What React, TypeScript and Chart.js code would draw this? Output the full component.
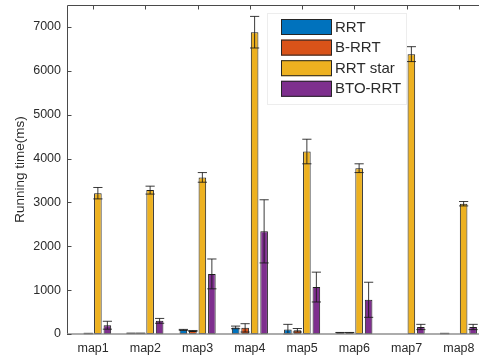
import React, { useEffect, useRef } from "react";
import { Chart, registerables } from "chart.js";

Chart.register(...registerables);

const categories = ["map1", "map2", "map3", "map4", "map5", "map6", "map7", "map8"];
const seriesNames = ["RRT", "B-RRT", "RRT star", "BTO-RRT"];
const seriesColors = ["#0072BD", "#D95319", "#EDB120", "#7E2F8E"];

const rrt = [0, 15, 95, 150, 100, 30, 0, 10];
const rrtErr = [0, 5, 10, 30, 120, 5, 0, 5];
const bRrt = [10, 15, 70, 140, 85, 30, 0, 0];
const bRrtErr = [5, 5, 10, 95, 40, 5, 0, 0];
const rrtStar = [3210, 3280, 3570, 6880, 4160, 3780, 6380, 2970];
const rrtStarErr = [130, 90, 110, 360, 280, 100, 170, 50];
const btoRrt = [200, 300, 1370, 2340, 1070, 780, 160, 160];
const btoRrtErr = [90, 55, 340, 720, 340, 400, 60, 60];

const yTicks = [0, 1000, 2000, 3000, 4000, 5000, 6000, 7000];
const yMax = 7500;
const yTitle = "Running time(ms)";

const FONT = '"Liberation Sans", Arial, Helvetica, sans-serif';
const TEXT = "#2b2b2b";

const seriesValues = [rrt, bRrt, rrtStar, btoRrt];
const seriesErrors = [rrtErr, bRrtErr, rrtStarErr, btoRrtErr];

const matlabPlugin = {
  id: "matlabStyle",
  afterDatasetsDraw(chart: any) {
    const ctx = chart.ctx;
    const ys = chart.scales.y;
    const xs = chart.scales.x;
    const area = chart.chartArea;
    ctx.save();
    // error bars
    chart.data.datasets.forEach((ds: any, i: number) => {
      const meta = chart.getDatasetMeta(i);
      meta.data.forEach((bar: any, j: number) => {
        const v = ds.data[j];
        const e = seriesErrors[i][j];
        if (!v && !e) return;
        const x = bar.x;
        const yt = ys.getPixelForValue(v + e);
        const yb = ys.getPixelForValue(Math.max(0, v - e));
        ctx.strokeStyle = "rgba(25,25,25,0.85)";
        ctx.lineWidth = 1;
        ctx.beginPath();
        ctx.moveTo(x, yt);
        ctx.lineTo(x, yb);
        ctx.moveTo(x - 4.6, yt);
        ctx.lineTo(x + 4.6, yt);
        ctx.moveTo(x - 4.6, yb);
        ctx.lineTo(x + 4.6, yb);
        ctx.stroke();
      });
    });
    // axes box
    ctx.strokeStyle = "#4a4a4a";
    ctx.lineWidth = 1;
    ctx.beginPath();
    ctx.moveTo(area.left + 0.5, area.bottom);
    ctx.lineTo(area.left + 0.5, area.top + 0.5);
    ctx.lineTo(area.right, area.top + 0.5);
    ctx.stroke();
    ctx.strokeStyle = "#909090";
    ctx.lineWidth = 1.5;
    ctx.beginPath();
    ctx.moveTo(area.left, area.bottom);
    ctx.lineTo(area.right, area.bottom);
    ctx.stroke();
    // inward ticks
    ctx.strokeStyle = "#4a4a4a";
    ctx.lineWidth = 1;
    ctx.beginPath();
    yTicks.forEach((t) => {
      const py = Math.round(ys.getPixelForValue(t)) + 0.5;
      ctx.moveTo(area.left, py);
      ctx.lineTo(area.left + 4.5, py);
    });
    categories.forEach((_, k) => {
      const px = Math.round(xs.getPixelForValue(k)) + 0.5;
      ctx.moveTo(px, area.top);
      ctx.lineTo(px, area.top + 4.5);
    });
    ctx.stroke();
    // y title
    ctx.fillStyle = TEXT;
    ctx.font = `13.5px ${FONT}`;
    ctx.textAlign = "center";
    ctx.textBaseline = "middle";
    ctx.translate(20, (area.top + area.bottom) / 2);
    ctx.rotate(-Math.PI / 2);
    ctx.fillText(yTitle, 0, 0);
    ctx.restore();
  },
  afterDraw(chart: any) {
    const ctx = chart.ctx;
    ctx.save();
    // legend box
    ctx.fillStyle = "#ffffff";
    ctx.fillRect(267, 13, 139, 91);
    ctx.strokeStyle = "#ededed";
    ctx.lineWidth = 1;
    ctx.strokeRect(267.5, 13.5, 139, 91);
    seriesNames.forEach((name, i) => {
      const y0 = 19 + i * 20.6;
      ctx.fillStyle = seriesColors[i];
      ctx.fillRect(281, y0, 51, 16);
      ctx.strokeStyle = "#262626";
      ctx.lineWidth = 1;
      ctx.strokeRect(281.5, y0 + 0.5, 50, 15);
      ctx.fillStyle = TEXT;
      ctx.font = `15px ${FONT}`;
      ctx.textAlign = "left";
      ctx.textBaseline = "middle";
      ctx.fillText(name, 335, y0 + 8.5);
    });
    ctx.restore();
  },
};

export default function App() {
  const ref = useRef<HTMLCanvasElement | null>(null);
  useEffect(() => {
    if (!ref.current) return;
    const chart = new Chart(ref.current, {
      type: "bar",
      data: {
        labels: categories,
        datasets: seriesNames.map((name, i) => ({
          label: name,
          data: seriesValues[i],
          backgroundColor: seriesColors[i],
          borderColor: "#1e1e1e",
          borderWidth: 1,
          borderSkipped: false,
          categoryPercentage: 0.727,
          barPercentage: 0.8,
        })),
      },
      options: {
        responsive: false,
        animation: false,
        devicePixelRatio: 1,
        layout: { autoPadding: false, padding: { top: 5, right: 5, left: 0, bottom: 0 } },
        plugins: { legend: { display: false }, tooltip: { enabled: false } },
        scales: {
          x: {
            grid: { display: false, drawTicks: false },
            border: { display: false },
            ticks: { color: TEXT, font: { family: FONT, size: 12.5 }, padding: 7 },
            afterFit: (s: any) => {
              s.height = 28;
              s.paddingLeft = 0;
              s.paddingRight = 0;
              s.paddingTop = 0;
              s.paddingBottom = 0;
            },
          },
          y: {
            min: 0,
            max: yMax,
            grid: { display: false, drawTicks: false },
            border: { display: false },
            ticks: {
              color: TEXT,
              font: { family: FONT, size: 12.5 },
              padding: 6,
              callback: (v: any) => String(v),
            },
            afterBuildTicks: (s: any) => {
              s.ticks = yTicks.map((v) => ({ value: v }));
            },
            afterFit: (s: any) => {
              s.width = 67;
              s.paddingLeft = 0;
              s.paddingRight = 0;
              s.paddingTop = 0;
              s.paddingBottom = 0;
            },
          },
        },
      },
      plugins: [matlabPlugin],
    });
    return () => chart.destroy();
  }, []);
  return (
    <div style={{ position: "fixed", left: 0, top: 0, width: 479, height: 362, overflow: "hidden", background: "#fff" }}>
      <canvas ref={ref} width={490} height={362} style={{ display: "block" }} />
    </div>
  );
}
